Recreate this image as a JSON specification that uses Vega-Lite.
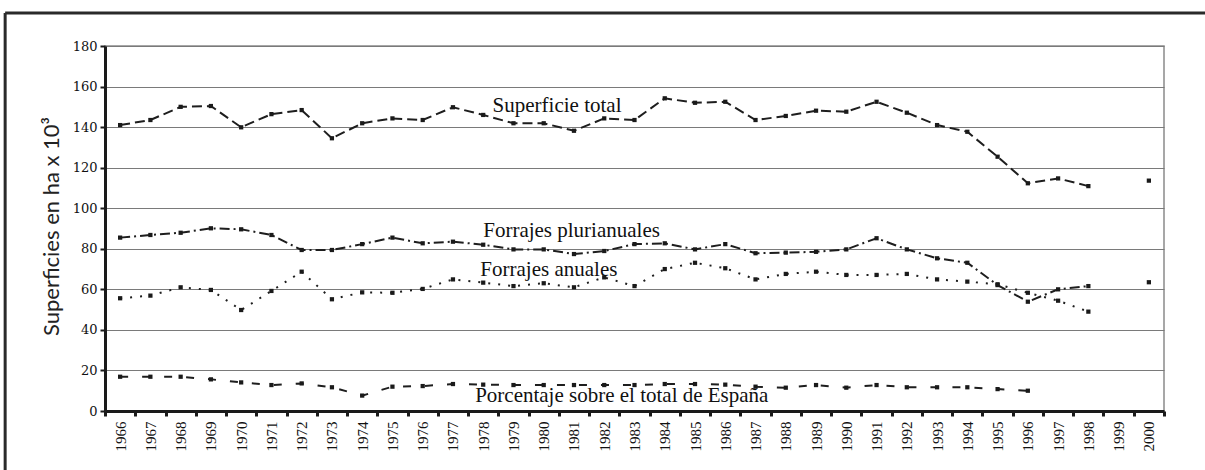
{
  "$schema": "https://vega.github.io/schema/vega-lite/v6.json",
  "autosize": {"type": "none"},
  "width": 1059,
  "height": 365,
  "padding": {"left": 105, "top": 46, "right": 41, "bottom": 59},
  "background": "white",
  "config": {
    "view": {"stroke": "#8a8a8a", "strokeWidth": 1.5},
    "font": "Liberation Serif",
    "axisX": {
      "labelFont": "Liberation Serif",
      "labelFontSize": 15,
      "labelColor": "#111",
      "domainColor": "#1a1a1a",
      "domainWidth": 3,
      "tickColor": "#1a1a1a",
      "tickWidth": 3,
      "tickSize": 5
    },
    "axisY": {
      "labelFont": "DejaVu Serif",
      "labelFontSize": 13,
      "labelColor": "#111",
      "labelPadding": 3,
      "gridColor": "#7a7a7a",
      "gridWidth": 1.2,
      "gridOpacity": 1,
      "domainColor": "#1a1a1a",
      "domainWidth": 3,
      "tickColor": "#1a1a1a",
      "tickWidth": 2,
      "tickSize": 5,
      "titleFont": "Lato",
      "titleFontSize": 22,
      "titleFontWeight": "normal",
      "titleColor": "#222"
    }
  },
  "resolve": {"axis": {"x": "independent", "y": "independent"}},
  "datasets": {
    "rows": [
      {"year": 1966, "t": 141.0, "p": 85.5, "a": 55.6, "e": 16.9},
      {"year": 1967, "t": 143.5, "p": 86.8, "a": 56.9, "e": 16.9},
      {"year": 1968, "t": 150.0, "p": 87.9, "a": 61.0, "e": 16.9},
      {"year": 1969, "t": 150.4, "p": 90.1, "a": 59.7, "e": 15.6},
      {"year": 1970, "t": 139.9, "p": 89.6, "a": 49.8, "e": 14.1},
      {"year": 1971, "t": 146.4, "p": 86.8, "a": 59.2, "e": 12.8},
      {"year": 1972, "t": 148.4, "p": 79.4, "a": 68.7, "e": 13.6},
      {"year": 1973, "t": 134.5, "p": 79.4, "a": 55.1, "e": 11.7},
      {"year": 1974, "t": 141.9, "p": 82.3, "a": 58.5, "e": 7.6},
      {"year": 1975, "t": 144.3, "p": 85.5, "a": 58.3, "e": 12.0},
      {"year": 1976, "t": 143.5, "p": 82.7, "a": 60.2, "e": 12.3},
      {"year": 1977, "t": 149.8, "p": 83.5, "a": 64.9, "e": 13.3},
      {"year": 1978, "t": 146.0, "p": 82.0, "a": 63.3, "e": 13.0},
      {"year": 1979, "t": 141.9, "p": 79.7, "a": 61.6, "e": 12.8},
      {"year": 1980, "t": 141.9, "p": 79.7, "a": 63.0, "e": 12.8},
      {"year": 1981, "t": 138.2, "p": 77.4, "a": 61.0, "e": 12.8},
      {"year": 1982, "t": 144.3, "p": 78.9, "a": 65.9, "e": 12.8},
      {"year": 1983, "t": 143.5, "p": 82.3, "a": 61.6, "e": 12.8},
      {"year": 1984, "t": 154.2, "p": 82.7, "a": 70.0, "e": 13.3},
      {"year": 1985, "t": 152.0, "p": 79.7, "a": 73.1, "e": 13.3},
      {"year": 1986, "t": 152.5, "p": 82.3, "a": 70.4, "e": 13.0},
      {"year": 1987, "t": 143.5, "p": 77.8, "a": 64.9, "e": 12.0},
      {"year": 1988, "t": 145.5, "p": 78.1, "a": 67.6, "e": 11.5},
      {"year": 1989, "t": 148.1, "p": 78.5, "a": 68.7, "e": 12.8},
      {"year": 1990, "t": 147.6, "p": 79.7, "a": 67.1, "e": 11.5},
      {"year": 1991, "t": 152.5, "p": 85.2, "a": 67.1, "e": 12.8},
      {"year": 1992, "t": 147.1, "p": 79.7, "a": 67.6, "e": 11.7},
      {"year": 1993, "t": 141.0, "p": 75.3, "a": 64.9, "e": 11.7},
      {"year": 1994, "t": 137.7, "p": 73.1, "a": 63.8, "e": 11.7},
      {"year": 1995, "t": 125.4, "p": 62.1, "a": 62.5, "e": 10.8},
      {"year": 1996, "t": 112.3, "p": 53.9, "a": 58.3, "e": 10.0},
      {"year": 1997, "t": 114.7, "p": 60.0, "a": 54.4, "e": null},
      {"year": 1998, "t": 110.9, "p": 61.6, "a": 49.0, "e": null},
      {"year": 1999, "t": null, "p": null, "a": null, "e": null},
      {"year": 2000, "t": 113.6, "p": 63.5, "a": null, "e": null}
    ],
    "labels": [
      {"year": 1980.44, "value": 147.6, "label": "Superficie total"},
      {"year": 1980.92, "value": 85.9, "label": "Forrajes plurianuales"},
      {"year": 1980.17, "value": 66.6, "label": "Forrajes anuales"},
      {"year": 1982.58, "value": 4.3, "label": "Porcentaje sobre el total de España"}
    ]
  },
  "layer": [
    {
      "data": {"name": "rows"},
      "transform": [{"fold": ["t", "p", "a", "e"], "as": ["serie", "value"]}],
      "mark": {"type": "line", "strokeWidth": 2, "color": "#1e1e1e"},
      "encoding": {
        "x": {
          "field": "year", "type": "quantitative",
          "scale": {"domain": [1965.5, 2000.5], "nice": false, "zero": false},
          "axis": {
            "orient": "bottom",
            "title": null,
            "values": [1966, 1967, 1968, 1969, 1970, 1971, 1972, 1973, 1974, 1975, 1976, 1977, 1978, 1979, 1980, 1981, 1982, 1983, 1984, 1985, 1986, 1987, 1988, 1989, 1990, 1991, 1992, 1993, 1994, 1995, 1996, 1997, 1998, 1999, 2000],
            "format": "d",
            "labelAngle": -90,
            "labelFont": "Liberation Serif",
            "labelFontSize": 15,
            "labelColor": "#111",
            "labelPadding": 10,
            "labelFlush": false,
            "ticks": false,
            "grid": false,
            "domainColor": "#1a1a1a",
            "domainWidth": 3
          }
        },
        "y": {
          "field": "value", "type": "quantitative",
          "scale": {"domain": [0, 180], "nice": false},
          "axis": {
            "orient": "left",
            "title": "Superficies en ha x 10³",
            "titleFont": "Lato",
            "titleFontSize": 22,
            "titleFontWeight": "normal",
            "titleColor": "#222",
            "titleAngle": -90,
            "titleAlign": "center",
            "titleBaseline": "bottom",
            "titleX": -42,
            "titleY": 180,
            "values": [0, 20, 40, 60, 80, 100, 120, 140, 160, 180],
            "format": "d",
            "labelFont": "DejaVu Serif",
            "labelFontSize": 13,
            "labelColor": "#111",
            "labelPadding": 3,
            "grid": true,
            "gridColor": "#7a7a7a",
            "gridWidth": 1.2,
            "domainColor": "#1a1a1a",
            "domainWidth": 3,
            "tickColor": "#1a1a1a",
            "tickWidth": 2,
            "tickSize": 5
          }
        },
        "detail": {"field": "serie"},
        "strokeDash": {
          "field": "serie", "type": "nominal", "legend": null,
          "scale": {"domain": ["t", "p", "a", "e"], "range": [[10, 5], [10, 4, 2, 4], [2, 8], [8, 14]]}
        }
      }
    },
    {
      "data": {"name": "rows"},
      "transform": [{"fold": ["t", "p", "a", "e"], "as": ["serie", "value"]}],
      "mark": {"type": "point", "shape": "square", "filled": true, "size": 18, "color": "#1a1a1a", "opacity": 1},
      "encoding": {
        "x": {
          "field": "year", "type": "quantitative",
          "axis": {
            "orient": "bottom",
            "title": null,
            "values": [1965.5, 1966.5, 1967.5, 1968.5, 1969.5, 1970.5, 1971.5, 1972.5, 1973.5, 1974.5, 1975.5, 1976.5, 1977.5, 1978.5, 1979.5, 1980.5, 1981.5, 1982.5, 1983.5, 1984.5, 1985.5, 1986.5, 1987.5, 1988.5, 1989.5, 1990.5, 1991.5, 1992.5, 1993.5, 1994.5, 1995.5, 1996.5, 1997.5, 1998.5, 1999.5, 2000.5],
            "labels": false,
            "domain": false,
            "grid": false,
            "ticks": true,
            "tickColor": "#1a1a1a",
            "tickWidth": 3,
            "tickSize": 5
          }
        },
        "y": {"field": "value", "type": "quantitative", "axis": null}
      }
    },
    {
      "data": {"name": "labels"},
      "mark": {"type": "text", "font": "Liberation Serif", "fontSize": 21, "align": "center", "baseline": "alphabetic", "color": "#111"},
      "encoding": {
        "x": {"field": "year", "type": "quantitative", "axis": null},
        "y": {"field": "value", "type": "quantitative", "axis": null},
        "text": {"field": "label"}
      }
    },
    {
      "data": {"values": [{}]},
      "mark": {"type": "rule", "strokeWidth": 3, "color": "#2a2a2a"},
      "encoding": {
        "x": {"datum": 1962.2, "type": "quantitative", "axis": null},
        "x2": {"datum": 2010},
        "y": {"datum": 196.3, "type": "quantitative", "axis": null}
      }
    },
    {
      "data": {"values": [{}]},
      "mark": {"type": "rule", "strokeWidth": 3, "color": "#2a2a2a"},
      "encoding": {
        "x": {"datum": 1962.2, "type": "quantitative", "axis": null},
        "y": {"datum": 196.3, "type": "quantitative", "axis": null},
        "y2": {"datum": -40}
      }
    }
  ]
}
